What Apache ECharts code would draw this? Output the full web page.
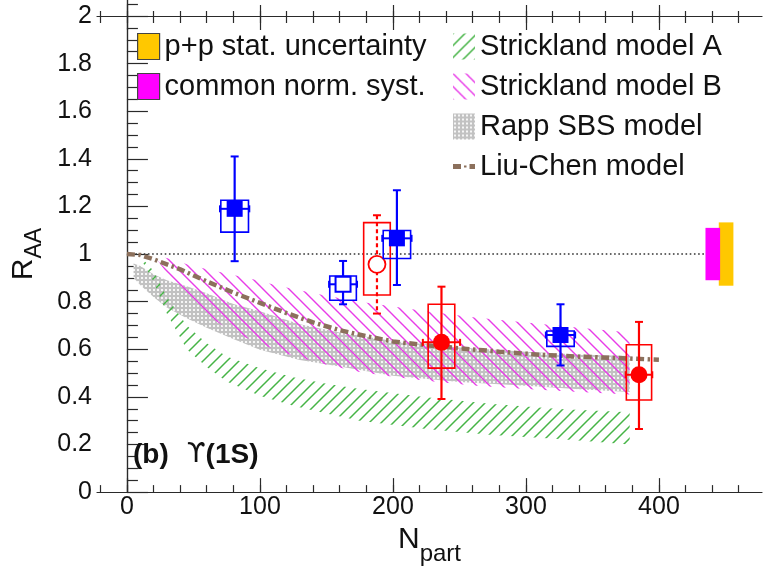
<!DOCTYPE html>
<html><head><meta charset="utf-8">
<script src="https://cdn.jsdelivr.net/npm/echarts@6/dist/echarts.min.js"></script>
<style>html,body{margin:0;padding:0;background:#fff}#c{width:764px;height:571px}</style>
</head><body><div id="c"></div>
<script>
// ---------------- data ----------------
const xTicks = [0, 100, 200, 300, 400];
const xTickLabels = ['0', '100', '200', '300', '400'];
const yTicks = [0, 0.2, 0.4, 0.6, 0.8, 1, 1.2, 1.4, 1.6, 1.8, 2];
const yTickLabels = ['0', '0.2', '0.4', '0.6', '0.8', '1', '1.2', '1.4', '1.6', '1.8', '2'];

// Liu-Chen model (line)
const liuChenX = [0, 10, 20, 40, 60, 80, 100, 120, 140, 160, 180, 200, 220, 250, 280, 310, 340, 370, 400];
const liuChenY = [1.0, 0.996, 0.978, 0.936, 0.885, 0.838, 0.795, 0.752, 0.713, 0.68, 0.655, 0.633, 0.62, 0.604, 0.59, 0.577, 0.569, 0.563, 0.556];

// Strickland model A (band)
const saX  = [12, 20, 30, 45, 60, 75, 100, 125, 150, 175, 225, 275, 325, 378];
const saHi = [0.978, 0.93, 0.82, 0.70, 0.625, 0.57, 0.52, 0.482, 0.455, 0.433, 0.398, 0.37, 0.349, 0.335];
const saLo = [0.965, 0.885, 0.75, 0.60, 0.525, 0.465, 0.405, 0.363, 0.33, 0.30, 0.265, 0.24, 0.223, 0.20];

// Strickland model B (band)
const sbX  = [21, 36, 45, 61, 80, 98, 110, 125, 150, 175, 200, 225, 260, 300, 340, 378];
const sbHi = [0.995, 0.975, 0.957, 0.935, 0.912, 0.89, 0.872, 0.853, 0.825, 0.80, 0.78, 0.76, 0.735, 0.712, 0.69, 0.67];
const sbLo = [0.99, 0.873, 0.825, 0.74, 0.67, 0.629, 0.601, 0.573, 0.535, 0.505, 0.485, 0.468, 0.448, 0.433, 0.42, 0.41];

// Rapp SBS model (band)
const rX  = [5, 10, 20, 30, 45, 60, 80, 100, 130, 160, 200, 250, 300, 340, 378];
const rHi = [0.96, 0.95, 0.915, 0.89, 0.865, 0.835, 0.79, 0.76, 0.705, 0.67, 0.635, 0.607, 0.59, 0.578, 0.572];
const rLo = [0.90, 0.87, 0.82, 0.775, 0.73, 0.69, 0.643, 0.598, 0.555, 0.528, 0.489, 0.462, 0.447, 0.432, 0.42];

// blue filled squares
const bfX = [81, 203, 326];
const bfY = [1.19, 1.066, 0.66];
const bfStatLo = [0.97, 0.87, 0.532];
const bfStatHi = [1.41, 1.268, 0.789];
const bfSysLo = [1.092, 0.981, 0.612];
const bfSysHi = [1.226, 1.099, 0.677];
const bfSysW = [10.4, 10.3, 10.3];
const bfXErr = [11, 11, 11];

// blue open square
const boX = [162.5];
const boY = [0.873];
const boStatLo = [0.789];
const boStatHi = [0.971];
const boSysLo = [0.806];
const boSysHi = [0.908];
const boSysW = [10];
const boXErr = [10.5];

// red open circle
const roX = [188];
const roY = [0.957];
const roStatLo = [0.75];
const roStatHi = [1.163];
const roSysLo = [0.828];
const roSysHi = [1.132];
const roSysW = [10];
const roXErr = [0];

// red filled circles
const rfX = [236.5, 385];
const rfY = [0.629, 0.493];
const rfStatLo = [0.391, 0.265];
const rfStatHi = [0.863, 0.715];
const rfSysLo = [0.521, 0.387];
const rfSysHi = [0.789, 0.619];
const rfSysW = [10, 9.5];
const rfXErr = [14, 10];

// reference line at 1 and global uncertainty boxes
const refX = [0, 435];
const refY = [1, 1];
const ppStatX = [445, 456];
const ppStatY = [0.867, 1.133];
const normSystX = [435, 446];
const normSystY = [0.89, 1.11];

// ---------------- helpers ----------------
const FONT = 'Liberation Sans';
const xMinor = [];
for (let v = -20; v <= 460; v += 20) xMinor.push(v);

function hatch(color, s, dir, lw) {
  const c = document.createElement('canvas');
  c.width = s; c.height = s;
  const g = c.getContext('2d');
  g.strokeStyle = color; g.lineWidth = lw;
  g.beginPath();
  if (dir === '/') {
    g.moveTo(-2, s + 2); g.lineTo(s + 2, -2);
    g.moveTo(-2, 2); g.lineTo(2, -2);
    g.moveTo(s - 2, s + 2); g.lineTo(s + 2, s - 2);
  } else {
    g.moveTo(-2, -2); g.lineTo(s + 2, s + 2);
    g.moveTo(s - 2, -2); g.lineTo(s + 2, 2);
    g.moveTo(-2, s - 2); g.lineTo(2, s + 2);
  }
  g.stroke();
  return { image: c, repeat: 'repeat' };
}
function mesh() {
  const c = document.createElement('canvas');
  c.width = 4; c.height = 4;
  const g = c.getContext('2d');
  g.fillStyle = '#c2c2c2'; g.fillRect(0, 0, 4, 4);
  g.fillStyle = '#f6f6f6'; g.fillRect(1, 1, 2, 2);
  return { image: c, repeat: 'repeat' };
}

const greenFill = hatch('rgb(70,180,70)', 12, '/', 1.5);
const magFill = hatch('rgb(232,60,232)', 13, '\\', 1.4);
const grayFill = mesh();

function band(name, xs, lo, hi, fill, z) {
  return {
    type: 'custom', name, coordinateSystem: 'cartesian2d', xAxisIndex: 0, yAxisIndex: 0,
    z, silent: true, clip: true, animation: false,
    itemStyle: { color: fill },
    data: [[xs[0], lo[0]]],
    renderItem: (params, api) => {
      const up = xs.map((x, i) => api.coord([x, hi[i]]));
      const dn = xs.map((x, i) => api.coord([x, lo[i]])).reverse();
      return { type: 'polygon', shape: { points: up.concat(dn) }, style: { fill: fill } };
    }
  };
}

function points(name, d, z) {
  return {
    type: 'custom', name, coordinateSystem: 'cartesian2d', xAxisIndex: 0, yAxisIndex: 0,
    z, silent: true, animation: false,
    data: d.x.map((x, i) => [x, d.y[i]]),
    renderItem: (params, api) => {
      const i = params.dataIndex;
      const x = d.x[i], y = d.y[i], col = d.color;
      const ch = [];
      const p1 = api.coord([x - d.sysW[i], d.sysHi[i]]);
      const p2 = api.coord([x + d.sysW[i], d.sysLo[i]]);
      ch.push({ type: 'rect', shape: { x: p1[0], y: p1[1], width: p2[0] - p1[0], height: p2[1] - p1[1] },
        style: { fill: 'none', stroke: col, lineWidth: 1.6 } });
      const t = api.coord([x, d.statHi[i]]), b = api.coord([x, d.statLo[i]]);
      const c = api.coord([x, y]);
      ch.push({ type: 'line', shape: { x1: t[0], y1: t[1], x2: b[0], y2: b[1] },
        style: { stroke: col, lineWidth: 2.2, lineDash: d.dashed ? [4, 3] : null } });
      [t, b].forEach(p => ch.push({ type: 'line', shape: { x1: p[0] - 4, y1: p[1], x2: p[0] + 4, y2: p[1] },
        style: { stroke: col, lineWidth: 2 } }));
      if (d.xErr[i] > 0) {
        const l = api.coord([x - d.xErr[i], y]), r = api.coord([x + d.xErr[i], y]);
        ch.push({ type: 'line', shape: { x1: l[0], y1: l[1], x2: r[0], y2: r[1] }, style: { stroke: col, lineWidth: 2 } });
        [l, r].forEach(p => ch.push({ type: 'line', shape: { x1: p[0], y1: p[1] - 3.5, x2: p[0], y2: p[1] + 3.5 },
          style: { stroke: col, lineWidth: 2 } }));
      }
      const s = d.size;
      if (d.marker === 'square') {
        ch.push({ type: 'rect', shape: { x: c[0] - s / 2, y: c[1] - s / 2, width: s, height: s },
          style: { fill: d.filled ? col : '#fff', stroke: col, lineWidth: d.filled ? 0 : 2 } });
      } else {
        ch.push({ type: 'circle', shape: { cx: c[0], cy: c[1], r: s / 2 },
          style: { fill: d.filled ? col : '#fff', stroke: col, lineWidth: d.filled ? 0 : 1.8 } });
      }
      return { type: 'group', children: ch };
    }
  };
}

function boxSeries(name, xs, ys, color, z) {
  return {
    type: 'custom', name, coordinateSystem: 'cartesian2d', xAxisIndex: 0, yAxisIndex: 0,
    z, silent: true, animation: false, itemStyle: { color },
    data: [[xs[0], ys[0]]],
    renderItem: (params, api) => {
      const a = api.coord([xs[0], ys[1]]), b = api.coord([xs[1], ys[0]]);
      return { type: 'rect', shape: { x: a[0], y: a[1], width: b[0] - a[0], height: b[1] - a[1] }, style: { fill: color } };
    }
  };
}

const axisCol = '#2a2a2a';
const textCol = '#111';
function tickFmt(ticks, labels) {
  return v => { const i = ticks.findIndex(t => Math.abs(t - v) < 1e-6); return i >= 0 ? labels[i] : ''; };
}
function xAx(gridIndex, position, len, vals, showLine, showLabel) {
  return {
    type: 'value', gridIndex, position, min: -22.5, max: 477.5,
    axisLine: { show: showLine, onZero: false, lineStyle: { color: axisCol, width: 1.2 } },
    axisTick: { show: true, inside: true, length: len, customValues: vals, lineStyle: { color: axisCol, width: 1.2 } },
    axisLabel: showLabel ? { show: true, customValues: xTicks, formatter: tickFmt(xTicks, xTickLabels), margin: 3,
      fontSize: 25, fontFamily: FONT, color: textCol } : { show: false },
    splitLine: { show: false }
  };
}

// dash-dot legend glyph (22 x 26 box)
const liuChenIcon = 'path://M0,0h0.01v0.01h-0.01z M21.99,25.99h0.01v0.01h-0.01z M0,10.5h8v5h-8z M11,12h2.5v2h-2.5z M16.5,10.5h5.5v5h-5.5z';

const option = {
  animation: false,
  backgroundColor: '#fff',
  grid: [
    { left: 97, right: 2, top: 16, bottom: 78, containLabel: false },
    { left: 97, right: 2, top: 0, height: 16, containLabel: false }
  ],
  xAxis: [
    Object.assign(xAx(0, 'bottom', 14, xTicks, true, true), {
      name: '{n|N}{s|part}', nameLocation: 'middle', nameGap: 26,
      nameTextStyle: { fontFamily: FONT, color: textCol, rich: {
        n: { fontSize: 30, lineHeight: 30, verticalAlign: 'top', fontFamily: FONT, color: textCol },
        s: { fontSize: 24, lineHeight: 30, verticalAlign: 'top', padding: [17, 0, 0, 0], fontFamily: FONT, color: textCol }
      } }
    }),
    xAx(0, 'bottom', 7, xMinor, false, false),
    xAx(0, 'top', 14, xTicks, true, false),
    xAx(0, 'top', 7, xMinor, false, false),
    xAx(1, 'bottom', 11, xTicks, false, false),
    xAx(1, 'bottom', 5, xMinor, false, false)
  ],
  yAxis: [
    {
      type: 'value', gridIndex: 0, position: 'left', min: 0, max: 2, interval: 0.2,
      axisLine: { show: true, lineStyle: { color: axisCol, width: 1.2 } },
      axisTick: { show: true, inside: true, length: 21, lineStyle: { color: axisCol, width: 1.2 } },
      minorTick: { show: true, splitNumber: 4, length: 11, lineStyle: { color: axisCol, width: 1.2 } },
      axisLabel: { formatter: tickFmt(yTicks, yTickLabels), margin: 5, fontSize: 25, fontFamily: FONT, color: textCol },
      splitLine: { show: false },
      name: '{r|R}{s|AA}', nameLocation: 'middle', nameRotate: 90, nameGap: 40,
      nameTextStyle: { fontFamily: FONT, color: textCol, rich: {
        r: { fontSize: 30, lineHeight: 30, verticalAlign: 'top', fontFamily: FONT, color: textCol },
        s: { fontSize: 23, lineHeight: 30, verticalAlign: 'top', padding: [15, 0, 0, 0], fontFamily: FONT, color: textCol }
      } }
    },
    {
      type: 'value', gridIndex: 0, position: 'right', min: 0, max: 2,
      axisLine: { show: true, lineStyle: { color: axisCol, width: 1.2 } },
      axisTick: { show: false }, axisLabel: { show: false }, splitLine: { show: false }
    },
    {
      type: 'value', gridIndex: 1, position: 'left', min: 2, max: 2.067,
      axisLine: { show: true, lineStyle: { color: axisCol, width: 1.2 } },
      axisTick: { show: true, inside: true, length: 11, customValues: [2.05], lineStyle: { color: axisCol, width: 1.2 } },
      axisLabel: { show: false }, splitLine: { show: false }
    },
    {
      type: 'value', gridIndex: 1, position: 'right', min: 2, max: 2.067,
      axisLine: { show: true, lineStyle: { color: axisCol, width: 1.2 } },
      axisTick: { show: false }, axisLabel: { show: false }, splitLine: { show: false }
    }
  ],
  title: {
    left: 133, top: 441, padding: 0,
    text: '{b|(b)}{u|ϒ}{b|(1S)}',
    textStyle: { rich: {
      b: { fontFamily: FONT, fontWeight: 'bold', fontSize: 28, color: textCol },
      u: { fontFamily: 'DejaVu Sans', fontWeight: 'normal', fontSize: 27, color: textCol, padding: [0, 0, 0, 18] }
    } }
  },
  legend: [
    {
      left: 137, top: 32, orient: 'vertical', padding: 0, itemWidth: 22, itemHeight: 26, itemGap: 11,
      selectedMode: false,
      textStyle: { fontSize: 29, fontFamily: FONT, color: textCol, lineHeight: 26 },
      data: [
        { name: 'p+p stat. uncertainty', icon: 'rect', itemStyle: { borderColor: '#444', borderWidth: 1.2 } },
        { name: 'common norm. syst.', icon: 'rect', itemStyle: { borderColor: '#444', borderWidth: 1.2 } }
      ]
    },
    {
      left: 453, top: 32, orient: 'vertical', padding: 0, itemWidth: 22, itemHeight: 26, itemGap: 11,
      selectedMode: false,
      textStyle: { fontSize: 29, fontFamily: FONT, color: textCol, lineHeight: 26 },
      data: [
        { name: 'Strickland model A', icon: 'rect' },
        { name: 'Strickland model B', icon: 'rect' },
        { name: 'Rapp SBS model', icon: 'rect' },
        { name: 'Liu-Chen model', icon: liuChenIcon }
      ]
    }
  ],
  series: [
    band('Rapp SBS model', rX, rLo, rHi, grayFill, 1),
    band('Strickland model A', saX, saLo, saHi, greenFill, 2),
    band('Strickland model B', sbX, sbLo, sbHi, magFill, 3),
    {
      type: 'line', name: 'ref', xAxisIndex: 0, yAxisIndex: 0, z: 4, silent: true, symbol: 'none',
      data: refX.map((x, i) => [x, refY[i]]),
      lineStyle: { color: '#333', width: 1.6, type: [1.6, 2.6] }
    },
    {
      type: 'line', name: 'Liu-Chen model', xAxisIndex: 0, yAxisIndex: 0, z: 5, silent: true, symbol: 'none',
      data: liuChenX.map((x, i) => [x, liuChenY[i]]),
      itemStyle: { color: 'rgb(140,112,92)' },
      lineStyle: { color: 'rgb(140,112,92)', width: 4.5, type: [8, 3.5, 2.5, 3.5] }
    },
    boxSeries('p+p stat. uncertainty', ppStatX, ppStatY, '#ffc800', 4),
    boxSeries('common norm. syst.', normSystX, normSystY, '#ff00ff', 5),
    points('blueOpen', { x: boX, y: boY, statLo: boStatLo, statHi: boStatHi, sysLo: boSysLo, sysHi: boSysHi,
      sysW: boSysW, xErr: boXErr, color: '#0000ff', marker: 'square', filled: false, size: 15 }, 10),
    points('redOpen', { x: roX, y: roY, statLo: roStatLo, statHi: roStatHi, sysLo: roSysLo, sysHi: roSysHi,
      sysW: roSysW, xErr: roXErr, color: '#ff0000', marker: 'circle', filled: false, size: 17, dashed: true }, 10),
    points('blueFilled', { x: bfX, y: bfY, statLo: bfStatLo, statHi: bfStatHi, sysLo: bfSysLo, sysHi: bfSysHi,
      sysW: bfSysW, xErr: bfXErr, color: '#0000ff', marker: 'square', filled: true, size: 16 }, 11),
    points('redFilled', { x: rfX, y: rfY, statLo: rfStatLo, statHi: rfStatHi, sysLo: rfSysLo, sysHi: rfSysHi,
      sysW: rfSysW, xErr: rfXErr, color: '#ff0000', marker: 'circle', filled: true, size: 17 }, 11)
  ]
};

const chart = echarts.init(document.getElementById('c'), null, { renderer: 'canvas' });
chart.setOption(option);
</script>
</body></html>
